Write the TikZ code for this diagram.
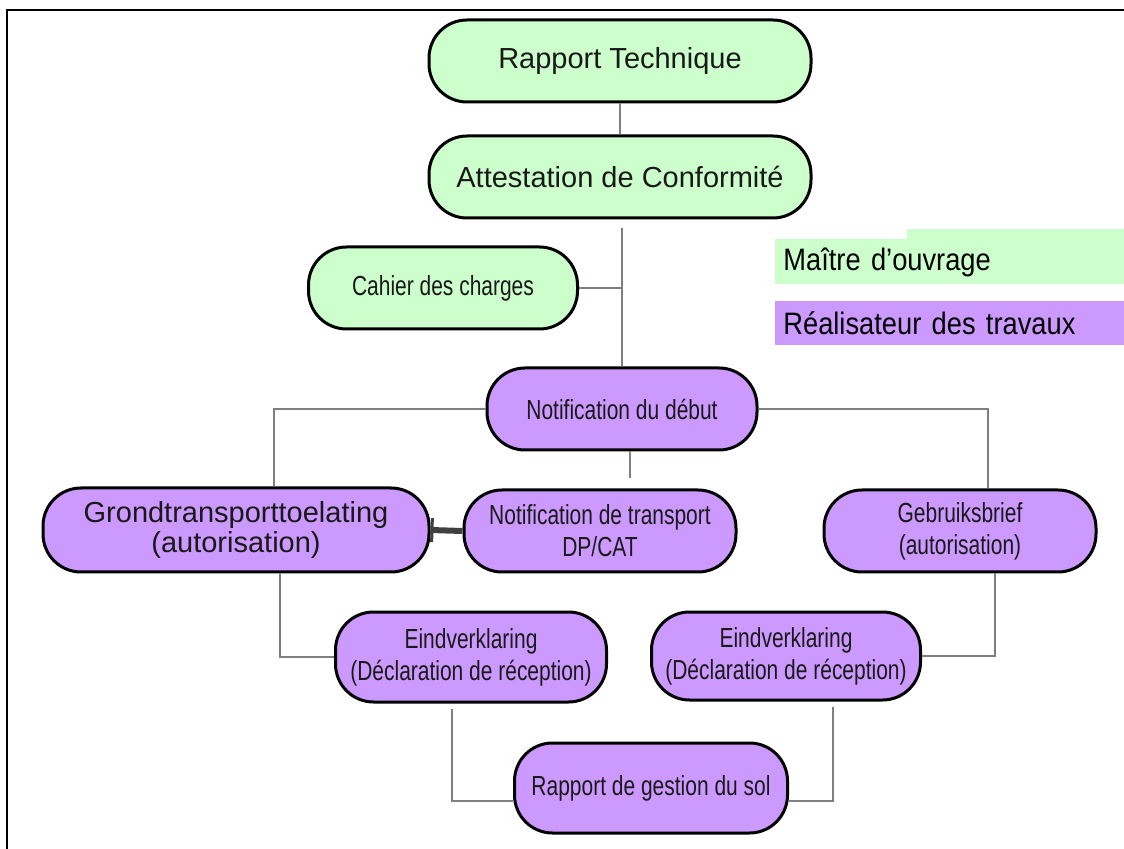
\documentclass[tikz,border=0pt]{standalone}
\usepackage{fontspec}
\setmainfont{Liberation Sans}
\newfontfamily\narrowfont[FakeStretch=0.76]{Liberation Sans}
\newfontfamily\legendfont[FakeStretch=0.88]{Liberation Sans}
\usepackage{tikz}
\usetikzlibrary{calc, arrows.meta}
\tikzset{>=latex}
\definecolor{mogreen}{HTML}{CCFFCC}
\definecolor{rtpurple}{HTML}{CC99FF}
\definecolor{linkgray}{HTML}{7F7F7F}

\begin{document}
\begin{tikzpicture}
[x=0.5pt, y=-0.5pt,
stage/.style={draw, line width=1.5pt, rounded corners=19pt, align=center, inner sep=0pt, minimum height=41pt, text=black!90},
bigtext/.style={font=\fontsize{14.5}{15}\selectfont},
smalltext/.style={font=\narrowfont\fontsize{13.8}{16}\selectfont},
mo/.style={stage, fill=mogreen},
rt/.style={stage, fill=rtpurple},
legend/.style={anchor=west, inner sep=4pt, text width=166.5pt, align=left, minimum height=22pt, font=\legendfont\fontsize{15.5}{16}\selectfont},
link/.style={draw=linkgray, line width=1pt},
transfer/.style={draw=black!75, line width=3pt, -{Bar[width=12pt, line width=1.5pt]}}]
\useasboundingbox (0,0) rectangle (1124,849);
\draw[line width=1.2pt] (7,849) -- (7,10) -- (1124,10);

\node[mo, bigtext, minimum width=191pt] (rapport) at (620,61) {Rapport Technique};
\node[mo, bigtext, minimum width=191pt] (attest) at (620,177) {Attestation de Conformité};
\node[mo, smalltext, minimum width=134.5pt] (cahier) at (443,288) {Cahier des charges};
\node[rt, smalltext, minimum width=135pt] (debut) at (622,409) {Notification du début};
\node[rt, bigtext, minimum width=193pt, minimum height=42pt] (grond) at (236,530) {Grondtransporttoelating\\(autorisation)};
\node[rt, smalltext, minimum width=136pt] (transp) at (600,531) {Notification de transport\\DP/CAT};
\node[rt, smalltext, minimum width=136pt] (gebruik) at (960,531) {Gebruiksbrief\\(autorisation)};
\node[rt, smalltext, minimum width=135.5pt, minimum height=45pt] (eindL) at (471,657) {Eindverklaring\\(Déclaration de réception)};
\node[rt, smalltext, minimum width=134.5pt, minimum height=44pt] (eindR) at (786,656) {Eindverklaring\\(Déclaration de réception)};
\node[rt, smalltext, minimum width=136.5pt, minimum height=45pt] (sol) at (651,788) {Rapport de gestion du sol};

\fill[mogreen] (907,229) rectangle (1124,241);
\node[legend, fill=mogreen] (molegend) at (775,262) {Maître d’ouvrage};
\node[legend, fill=rtpurple] (rtlegend) at (775,323) {Réalisateur des travaux};

\coordinate (toTransp) at ($(debut.south)+(8,0)$);
\coordinate (toGebruik) at ($(gebruik.north)+(28,0)$);
\coordinate (fromGebruik) at ($(gebruik.south)+(35,0)$);
\coordinate (toGrond) at ($(grond.north)+(38,0)$);
\coordinate (fromGrond) at ($(grond.south)+(44,0)$);
\coordinate (fromEindL) at ($(eindL.south)+(-19,5)$);
\coordinate (fromEindR) at ($(eindR.south)+(47,5)$);

\draw[link] (rapport) -- (attest);
\draw[link, shorten >=4.5pt] (debut.north) -- (debut.north |- attest.south);
\draw[link] (cahier.east) -- (cahier.east -| debut.north);
\draw[link] (debut.west) -| (toGrond);
\draw[link] (debut.east) -| (toGebruik);
\draw[link, shorten >=5pt] (toTransp) -- (toTransp |- transp.north);
\draw[link] (fromGrond) |- (eindL.west);
\draw[link] (fromGebruik) |- (eindR.east);
\draw[link] (fromEindL) |- ($(sol.west)+(0,13)$);
\draw[link] (fromEindR) |- ($(sol.east)+(0,13)$);
\draw[transfer] (transp.west) -- (grond.east);
\end{tikzpicture}
\end{document}
